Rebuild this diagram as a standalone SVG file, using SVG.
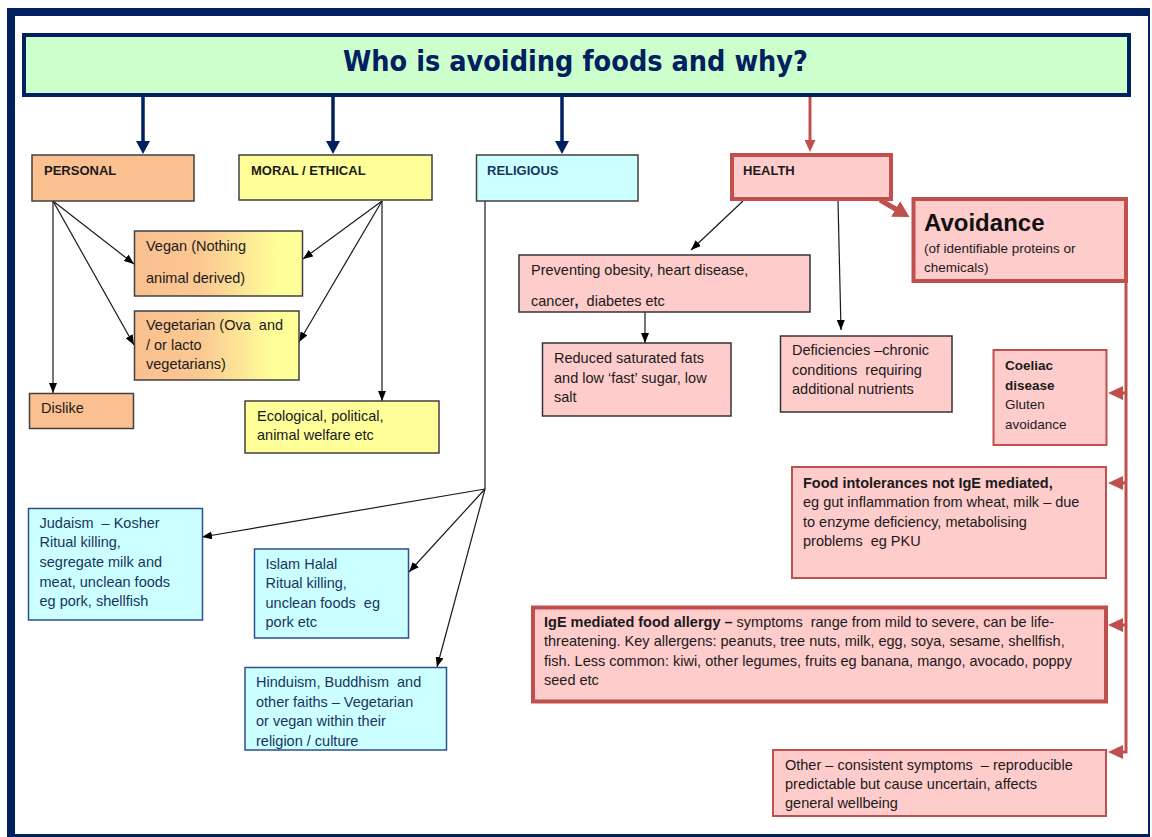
<svg xmlns="http://www.w3.org/2000/svg" width="1152" height="837" viewBox="0 0 1152 837">
<style>
  text { white-space: pre; }
  .t { font-family: "Liberation Sans", Arial, sans-serif; font-size: 14.5px; fill: #1a1a1a; }
  .tb { font-family: "Liberation Sans", Arial, sans-serif; font-size: 14.5px; fill: #17365D; }
  .h { font-family: "Liberation Sans", Arial, sans-serif; font-size: 13px; font-weight: bold; fill: #1a1a1a; }
  .b { font-weight: bold; }
  .thin { stroke: #404040; stroke-width: 1.5; }
  .blue { fill: #CCFFFF; stroke: #2F4F8F; stroke-width: 1.5; }
  .pinkthin { fill: #FFCCCC; stroke: #333333; stroke-width: 1.5; }
  .pinkred { fill: #FFCCCC; stroke: #C0504D; stroke-width: 2; }
  .pinkthick { fill: #FFCCCC; stroke: #C0504D; stroke-width: 4; }
  .ln { stroke: #1a1a1a; stroke-width: 1.2; fill: none; }
  .navy { stroke: #002060; stroke-width: 3.5; fill: none; }
  .red { stroke: #C0504D; stroke-width: 3; fill: none; }
</style>
<defs>
  <linearGradient id="gOY" x1="0" y1="0" x2="1" y2="0">
    <stop offset="0" stop-color="#FAC090"/>
    <stop offset="0.4" stop-color="#FBC892"/>
    <stop offset="0.85" stop-color="#FFFF99"/>
    <stop offset="1" stop-color="#FFFF99"/>
  </linearGradient>
  <marker id="aBlack" markerUnits="userSpaceOnUse" viewBox="0 0 10 8" markerWidth="10" markerHeight="8" refX="10" refY="4" orient="auto">
    <path d="M0,0 L10,4 L0,8 Z" fill="#000"/>
  </marker>
  <marker id="aNavy" markerUnits="userSpaceOnUse" viewBox="0 0 13 14" markerWidth="13" markerHeight="14" refX="9" refY="7" orient="auto">
    <path d="M0,0 L13,7 L0,14 Z" fill="#002060"/>
  </marker>
  <marker id="aRed" markerUnits="userSpaceOnUse" viewBox="0 0 15 14" markerWidth="15" markerHeight="14" refX="11" refY="7" orient="auto">
    <path d="M0,0 L15,7 L0,14 Z" fill="#C0504D"/>
  </marker>
  <marker id="aRedTop" markerUnits="userSpaceOnUse" viewBox="0 0 12 11" markerWidth="12" markerHeight="11" refX="8" refY="5.5" orient="auto">
    <path d="M0,0 L12,5.5 L0,11 Z" fill="#C0504D"/>
  </marker>
  <marker id="aRedBig" markerUnits="userSpaceOnUse" viewBox="0 0 16 18" markerWidth="16" markerHeight="18" refX="12" refY="9" orient="auto">
    <path d="M0,0 L16,9 L0,18 Z" fill="#C0504D"/>
  </marker>
</defs>

<g id="frame">
  <rect x="7" y="8" width="1143" height="8" fill="#002060"/>
  <rect x="7" y="8" width="8" height="829" fill="#002060"/>
  <rect x="1148" y="8" width="2" height="829" fill="#002060"/>
  <rect x="7" y="834" width="1143" height="3" fill="#002060"/>
</g>

<g id="title">
  <rect x="24" y="35" width="1105" height="60" fill="#CCFFCC" stroke="#002060" stroke-width="4"/>
  <text x="575.5" y="71" text-anchor="middle" font-family="'DejaVu Sans', Verdana, sans-serif" font-weight="bold" font-size="28" fill="#002060" textLength="465" lengthAdjust="spacingAndGlyphs">Who is avoiding foods and why?</text>
</g>

<g id="connectors">
  <line class="navy" x1="143" y1="97" x2="143" y2="150" marker-end="url(#aNavy)"/>
  <line class="navy" x1="333" y1="97" x2="333" y2="150" marker-end="url(#aNavy)"/>
  <line class="navy" x1="562" y1="97" x2="562" y2="150" marker-end="url(#aNavy)"/>
  <line class="red" x1="810" y1="97" x2="810" y2="148" marker-end="url(#aRedTop)"/>

  <line class="ln" x1="53" y1="201" x2="134" y2="264" marker-end="url(#aBlack)"/>
  <line class="ln" x1="53" y1="201" x2="134" y2="345" marker-end="url(#aBlack)"/>
  <line class="ln" x1="53" y1="201" x2="53" y2="393" marker-end="url(#aBlack)"/>
  <line class="ln" x1="382" y1="201" x2="303" y2="259" marker-end="url(#aBlack)"/>
  <line class="ln" x1="382" y1="201" x2="299" y2="342" marker-end="url(#aBlack)"/>
  <line class="ln" x1="382" y1="201" x2="382" y2="401" marker-end="url(#aBlack)"/>

  <line class="ln" x1="485" y1="201" x2="485" y2="489"/>
  <line class="ln" x1="485" y1="489" x2="202" y2="537" marker-end="url(#aBlack)"/>
  <line class="ln" x1="485" y1="489" x2="409" y2="572" marker-end="url(#aBlack)"/>
  <line class="ln" x1="485" y1="489" x2="437" y2="667" marker-end="url(#aBlack)"/>

  <line class="ln" x1="743" y1="201" x2="691" y2="250" marker-end="url(#aBlack)"/>
  <line class="ln" x1="838" y1="201" x2="841" y2="330" marker-end="url(#aBlack)"/>
  <line class="ln" x1="645" y1="312" x2="645" y2="343" marker-end="url(#aBlack)"/>

  <line x1="880" y1="200" x2="906" y2="215" stroke="#C0504D" stroke-width="5" marker-end="url(#aRedBig)"/>

  <path class="red" d="M1126,281 L1126,752 L1112,752" marker-end="url(#aRed)"/>
  <line class="red" x1="1126" y1="393" x2="1112" y2="393" marker-end="url(#aRed)"/>
  <line class="red" x1="1126" y1="483" x2="1112" y2="483" marker-end="url(#aRed)"/>
  <line class="red" x1="1126" y1="625" x2="1112" y2="625" marker-end="url(#aRed)"/>
</g>

<g id="personal">
  <rect x="32" y="155" width="162" height="46" fill="#FAC090" class="thin"/>
  <text class="h" x="44" y="175">PERSONAL</text>
</g>
<g id="moral">
  <rect x="239" y="155" width="193" height="45" fill="#FFFF99" class="thin"/>
  <text class="h" x="251" y="175">MORAL / ETHICAL</text>
</g>
<g id="religious">
  <rect x="476.5" y="155" width="161.5" height="46" fill="#CCFFFF" class="thin"/>
  <text class="h" x="487" y="175" style="fill:#17365D">RELIGIOUS</text>
</g>
<g id="health">
  <rect x="732" y="155" width="159" height="44" class="pinkthick"/>
  <text class="h" x="743" y="175">HEALTH</text>
</g>
<g id="avoidance">
  <rect x="913.5" y="199" width="212.5" height="82" class="pinkthick"/>
  <text x="924" y="231" font-family="'Liberation Sans', Arial, sans-serif" font-size="24" font-weight="bold" fill="#111">Avoidance</text>
  <text class="t" x="924" y="253" style="font-size:13.5px">(of identifiable proteins or</text>
  <text class="t" x="924" y="272" style="font-size:13.5px">chemicals)</text>
</g>

<g id="vegan">
  <rect x="134.5" y="231" width="168" height="65" fill="url(#gOY)" class="thin"/>
  <text class="t" x="146" y="251">Vegan (Nothing</text>
  <text class="t" x="146" y="283">animal derived)</text>
</g>
<g id="vegetarian">
  <rect x="134.5" y="311" width="164.5" height="69" fill="url(#gOY)" class="thin"/>
  <text class="t" x="146" y="330">Vegetarian (Ova  and</text>
  <text class="t" x="146" y="349.5">/ or lacto</text>
  <text class="t" x="146" y="369">vegetarians)</text>
</g>
<g id="dislike">
  <rect x="29.5" y="393.5" width="104" height="35" fill="#FAC090" class="thin"/>
  <text class="t" x="41" y="413">Dislike</text>
</g>
<g id="ecological">
  <rect x="245" y="401" width="194" height="52" fill="#FFFF99" class="thin"/>
  <text class="t" x="257" y="421">Ecological, political,</text>
  <text class="t" x="257" y="440">animal welfare etc</text>
</g>

<g id="judaism">
  <rect x="28.5" y="508.5" width="174" height="111.5" class="blue"/>
  <text class="tb" x="39.5" y="527.5">Judaism  – Kosher</text>
  <text class="tb" x="39.5" y="547">Ritual killing,</text>
  <text class="tb" x="39.5" y="566.5">segregate milk and</text>
  <text class="tb" x="39.5" y="586.5">meat, unclean foods</text>
  <text class="tb" x="39.5" y="606">eg pork, shellfish</text>
</g>
<g id="islam">
  <rect x="254.5" y="549" width="154" height="89" class="blue"/>
  <text class="tb" x="265.5" y="568.5">Islam Halal</text>
  <text class="tb" x="265.5" y="588">Ritual killing,</text>
  <text class="tb" x="265.5" y="607.5">unclean foods  eg</text>
  <text class="tb" x="265.5" y="627">pork etc</text>
</g>
<g id="hinduism">
  <rect x="245" y="667.5" width="201.5" height="82.5" class="blue"/>
  <text class="tb" x="256" y="687">Hinduism, Buddhism  and</text>
  <text class="tb" x="256" y="706.5">other faiths – Vegetarian</text>
  <text class="tb" x="256" y="726">or vegan within their</text>
  <text class="tb" x="256" y="746">religion / culture</text>
</g>

<g id="preventing">
  <rect x="519" y="255" width="291" height="57" class="pinkthin"/>
  <text class="t" x="531" y="275">Preventing obesity, heart disease,</text>
  <text class="t" x="531" y="305.5">cancer<tspan class="b">,</tspan>  diabetes etc</text>
</g>
<g id="reduced">
  <rect x="542.5" y="343" width="188.5" height="73" class="pinkthin"/>
  <text class="t" x="554" y="363">Reduced saturated fats</text>
  <text class="t" x="554" y="382.5">and low ‘fast’ sugar, low</text>
  <text class="t" x="554" y="402">salt</text>
</g>
<g id="deficiencies">
  <rect x="780.5" y="336" width="171.5" height="76" class="pinkthin"/>
  <text class="t" x="792" y="355">Deficiencies –chronic</text>
  <text class="t" x="792" y="374.5">conditions  requiring</text>
  <text class="t" x="792" y="394">additional nutrients</text>
</g>

<g id="coeliac">
  <rect x="993.5" y="350" width="113" height="95" class="pinkred"/>
  <text class="t b" x="1005" y="370" style="font-size:13.5px">Coeliac</text>
  <text class="t b" x="1005" y="390" style="font-size:13.5px">disease</text>
  <text class="t" x="1005" y="409" style="font-size:13.5px">Gluten</text>
  <text class="t" x="1005" y="429" style="font-size:13.5px">avoidance</text>
</g>
<g id="intolerances">
  <rect x="792" y="467" width="314" height="111" class="pinkred"/>
  <text class="t b" x="803" y="488">Food intolerances not IgE mediated,</text>
  <text class="t" x="803" y="507">eg gut inflammation from wheat, milk – due</text>
  <text class="t" x="803" y="526.5">to enzyme deficiency, metabolising</text>
  <text class="t" x="803" y="546">problems  eg PKU</text>
</g>
<g id="ige">
  <rect x="533" y="607.5" width="573" height="94" class="pinkthick"/>
  <text class="t" x="544" y="627"><tspan class="b">IgE mediated food allergy –</tspan> symptoms  range from mild to severe, can be life-</text>
  <text class="t" x="544" y="646">threatening. Key allergens: peanuts, tree nuts, milk, egg, soya, sesame, shellfish,</text>
  <text class="t" x="544" y="665.5">fish. Less common: kiwi, other legumes, fruits eg banana, mango, avocado, poppy</text>
  <text class="t" x="544" y="685">seed etc</text>
</g>
<g id="other">
  <rect x="773" y="750" width="333" height="66" class="pinkred"/>
  <text class="t" x="785" y="770">Other – consistent symptoms  – reproducible</text>
  <text class="t" x="785" y="789">predictable but cause uncertain, affects</text>
  <text class="t" x="785" y="808">general wellbeing</text>
</g>
</svg>
